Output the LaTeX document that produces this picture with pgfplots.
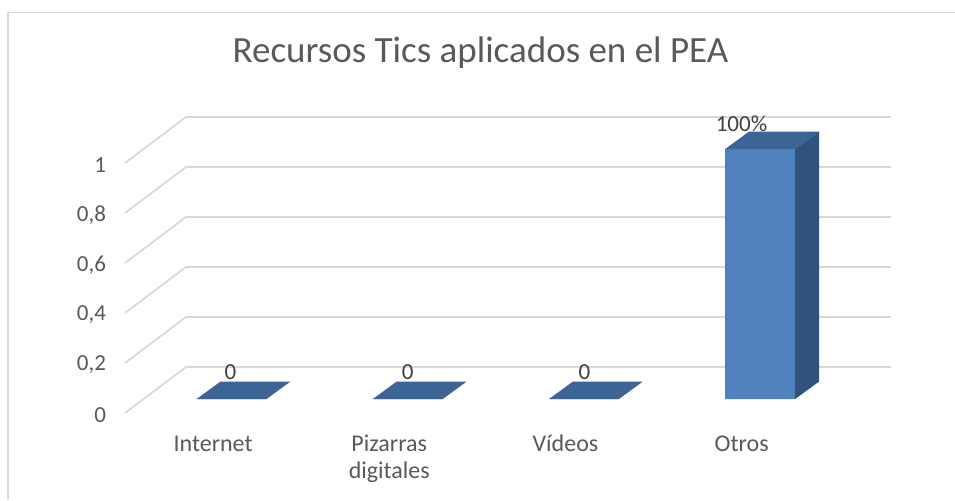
\documentclass[border=0pt]{standalone}
\usepackage{pgfplots}
\pgfplotsset{compat=1.18}
\usepackage{fontspec}
\setmainfont{Carlito}
\definecolor{frontc}{HTML}{4F81BD}
\definecolor{topc}{HTML}{3C6494}
\definecolor{sidec}{HTML}{31527A}
\definecolor{gridc}{HTML}{D9D9D9}
\definecolor{txt}{HTML}{595959}
\definecolor{lbl}{HTML}{404040}
\begin{document}
\begin{tikzpicture}[x=0.5pt,y=0.5pt]
\useasboundingbox (0,0) rectangle (955,500);
\draw[gridc, line width=0.8pt] (8,0) -- (8,487.5) -- (955,487.5);
\node[txt, anchor=base, font=\fontsize{18.5}{22}\selectfont] at (480.5,438) {Recursos Tics aplicados en el PEA};
\begin{axis}[
  anchor=south west, at={(62.5pt,43.5pt)},
  x=88.1pt, y=125pt,
  xmin=-0.605, xmax=3.741, ymin=-0.056, ymax=1.128,
  clip=false,
  axis line style={draw=none},
  major tick length=0pt,
  xtick={0,1,2,3},
  xticklabels={\strut Internet,{\strut Pizarras\\digitales},\strut Vídeos,\strut Otros},
  xticklabel style={align=center, xshift=-9.25pt, yshift=-6.5pt, text=txt, font=\fontsize{12}{13.5}\selectfont},
  ytick={-0.056,0.144,0.344,0.544,0.744,0.944},
  yticklabels={0,{0,2},{0,4},{0,6},{0,8},1},
  yticklabel style={xshift=-6pt, yshift=-1pt, text=txt, font=\fontsize{11.5}{13.5}\selectfont},
]
% floor/back wall grid
\addplot[gridc, line width=0.9pt] coordinates {(-0.605,-0.056) (-0.259,0.128) (3.741,0.128)};
\addplot[gridc, line width=0.9pt] coordinates {(-0.605,0.144) (-0.259,0.328) (3.741,0.328)};
\addplot[gridc, line width=0.9pt] coordinates {(-0.605,0.344) (-0.259,0.528) (3.741,0.528)};
\addplot[gridc, line width=0.9pt] coordinates {(-0.605,0.544) (-0.259,0.728) (3.741,0.728)};
\addplot[gridc, line width=0.9pt] coordinates {(-0.605,0.744) (-0.259,0.928) (3.741,0.928)};
\addplot[gridc, line width=0.9pt] coordinates {(-0.605,0.944) (-0.259,1.128) (3.741,1.128)};
% bar front faces
\addplot[ybar, bar width=0.397, fill=frontc, draw=none] coordinates {(0,0) (1,0) (2,0) (3,1)};
% top faces
\addplot[fill=topc, draw=none] coordinates {(-0.1985,0) (0.1985,0) (0.3345,0.07) (-0.0625,0.07)} -- cycle;
\addplot[fill=topc, draw=none] coordinates {(0.8015,0) (1.1985,0) (1.3345,0.07) (0.9375,0.07)} -- cycle;
\addplot[fill=topc, draw=none] coordinates {(1.8015,0) (2.1985,0) (2.3345,0.07) (1.9375,0.07)} -- cycle;
\addplot[fill=topc, draw=none] coordinates {(2.8015,1) (3.1985,1) (3.3345,1.07) (2.9375,1.07)} -- cycle;
% side face
\addplot[fill=sidec, draw=none] coordinates {(3.1985,0) (3.3345,0.07) (3.3345,1.07) (3.1985,1)} -- cycle;
% data labels
\addplot[draw=none, mark=none, nodes near coords, point meta=explicit symbolic,
  nodes near coords style={anchor=center, text=lbl, font=\fontsize{11.5}{13.5}\selectfont}]
  coordinates {(-0.006,0.108)[0] (0.999,0.108)[0] (2.003,0.108)[0] (2.894,1.1)[100\%]};
\end{axis}
\end{tikzpicture}
\end{document}
